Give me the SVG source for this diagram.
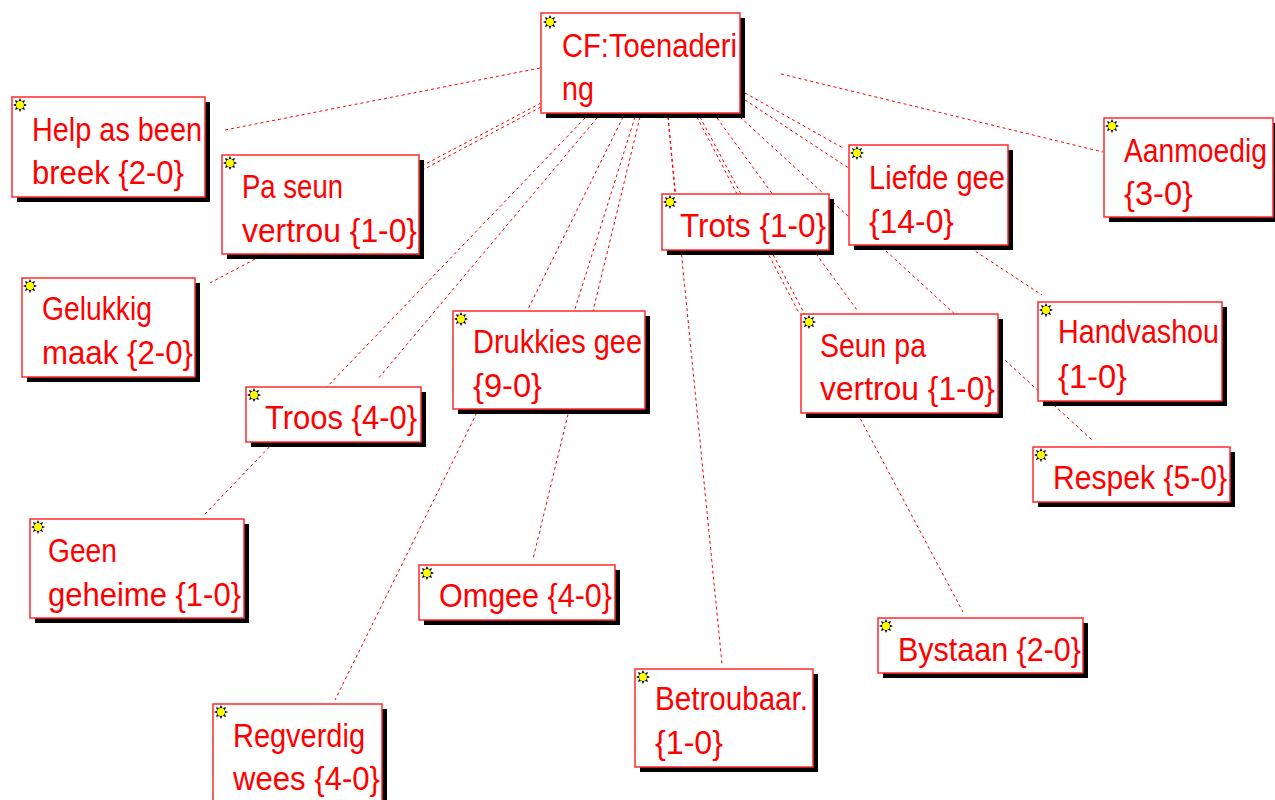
<svg xmlns="http://www.w3.org/2000/svg" width="1275" height="800" viewBox="0 0 1275 800">
<style>
.bg{fill:#ffffff}
.box{fill:#ffffff;stroke:#ff2a2a;stroke-width:1.5}
.sh{fill:#000000}
.t{font-family:"Liberation Sans",Arial,sans-serif;font-size:33px;fill:#ff0000}
.c{stroke:#ff0000;stroke-width:1;stroke-dasharray:3 3;fill:none}
</style>
<defs>
<symbol id="icon" viewBox="0 0 12 12" width="14" height="14" overflow="visible">
<polygon points="12,6 9.23,7.34 10.24,10.24 7.34,9.23 6,12 4.66,9.23 1.76,10.24 2.77,7.34 0,6 2.77,4.66 1.76,1.76 4.66,2.77 6,0 7.34,2.77 10.24,1.76 9.23,4.66" fill="#000000"/>
<circle cx="6" cy="6" r="3.4" fill="#ffff00"/>
</symbol>
</defs>
<rect class="bg" x="0" y="0" width="1275" height="800"/>
<g id="connectors">
<line class="c" x1="540" y1="68" x2="225" y2="130"/>
<line class="c" x1="541" y1="103" x2="420" y2="167"/>
<line class="c" x1="541" y1="107" x2="210" y2="283"/>
<line class="c" x1="597" y1="118" x2="377" y2="380"/>
<line class="c" x1="585" y1="118" x2="205" y2="514"/>
<line class="c" x1="635" y1="117" x2="575" y2="309"/>
<line class="c" x1="640" y1="117" x2="533" y2="559"/>
<line class="c" x1="623" y1="117" x2="335" y2="700"/>
<line class="c" x1="668" y1="117" x2="675" y2="194"/>
<line class="c" x1="668" y1="117" x2="722" y2="664"/>
<line class="c" x1="697" y1="117" x2="799" y2="313"/>
<line class="c" x1="700" y1="117" x2="963" y2="612"/>
<line class="c" x1="717" y1="118" x2="857" y2="310"/>
<line class="c" x1="745" y1="93" x2="843" y2="148"/>
<line class="c" x1="745" y1="100" x2="1042" y2="295"/>
<line class="c" x1="740" y1="117" x2="1092" y2="440"/>
<line class="c" x1="781" y1="74" x2="1103" y2="152"/>
</g>
<g id="n-cf">
<rect class="sh" x="546" y="18" width="199" height="100"/>
<rect class="box" x="541" y="13" width="199" height="100"/>
<use href="#icon" x="543" y="15"/>
<text class="t" x="562" y="57" textLength="175" lengthAdjust="spacingAndGlyphs">CF:Toenaderi</text>
<text class="t" x="562" y="100" textLength="32" lengthAdjust="spacingAndGlyphs">ng</text>
</g>
<g id="n-help">
<rect class="sh" x="17" y="102" width="193" height="100"/>
<rect class="box" x="12" y="97" width="193" height="100"/>
<use href="#icon" x="13" y="98"/>
<text class="t" x="32" y="141" textLength="170" lengthAdjust="spacingAndGlyphs">Help as been</text>
<text class="t" x="32" y="184" textLength="152" lengthAdjust="spacingAndGlyphs">breek {2-0}</text>
</g>
<g id="n-paseun">
<rect class="sh" x="227" y="160" width="197" height="99"/>
<rect class="box" x="222" y="155" width="197" height="99"/>
<use href="#icon" x="223" y="156"/>
<text class="t" x="242" y="198" textLength="101" lengthAdjust="spacingAndGlyphs">Pa seun</text>
<text class="t" x="242" y="242" textLength="175" lengthAdjust="spacingAndGlyphs">vertrou {1-0}</text>
</g>
<g id="n-gelukkig">
<rect class="sh" x="27" y="283" width="173" height="99"/>
<rect class="box" x="22" y="278" width="173" height="99"/>
<use href="#icon" x="23" y="279"/>
<text class="t" x="42" y="320" textLength="110" lengthAdjust="spacingAndGlyphs">Gelukkig</text>
<text class="t" x="42" y="364" textLength="151" lengthAdjust="spacingAndGlyphs">maak {2-0}</text>
</g>
<g id="n-troos">
<rect class="sh" x="251" y="392" width="175" height="55"/>
<rect class="box" x="246" y="387" width="175" height="55"/>
<use href="#icon" x="247" y="388"/>
<text class="t" x="265" y="429" textLength="152" lengthAdjust="spacingAndGlyphs">Troos {4-0}</text>
</g>
<g id="n-drukkies">
<rect class="sh" x="458" y="316" width="192" height="98"/>
<rect class="box" x="453" y="311" width="192" height="98"/>
<use href="#icon" x="454" y="312"/>
<text class="t" x="473" y="353" textLength="169" lengthAdjust="spacingAndGlyphs">Drukkies gee</text>
<text class="t" x="473" y="397" textLength="69" lengthAdjust="spacingAndGlyphs">{9-0}</text>
</g>
<g id="n-omgee">
<rect class="sh" x="424" y="570" width="196" height="55"/>
<rect class="box" x="419" y="565" width="196" height="55"/>
<use href="#icon" x="420" y="566"/>
<text class="t" x="439" y="607" textLength="173" lengthAdjust="spacingAndGlyphs">Omgee {4-0}</text>
</g>
<g id="n-geen">
<rect class="sh" x="35" y="524" width="214" height="99"/>
<rect class="box" x="30" y="519" width="214" height="99"/>
<use href="#icon" x="31" y="520"/>
<text class="t" x="48" y="562" textLength="69" lengthAdjust="spacingAndGlyphs">Geen</text>
<text class="t" x="48" y="606" textLength="193" lengthAdjust="spacingAndGlyphs">geheime {1-0}</text>
</g>
<g id="n-regverdig">
<rect class="sh" x="218" y="709" width="169" height="100"/>
<rect class="box" x="213" y="704" width="169" height="100"/>
<use href="#icon" x="214" y="705"/>
<text class="t" x="233" y="747" textLength="132" lengthAdjust="spacingAndGlyphs">Regverdig</text>
<text class="t" x="233" y="790" textLength="147" lengthAdjust="spacingAndGlyphs">wees {4-0}</text>
</g>
<g id="n-trots">
<rect class="sh" x="667" y="199" width="167" height="56"/>
<rect class="box" x="662" y="194" width="167" height="56"/>
<use href="#icon" x="663" y="195"/>
<text class="t" x="680" y="237" textLength="146" lengthAdjust="spacingAndGlyphs">Trots {1-0}</text>
</g>
<g id="n-betroubaar">
<rect class="sh" x="640" y="674" width="178" height="98"/>
<rect class="box" x="635" y="669" width="178" height="98"/>
<use href="#icon" x="636" y="670"/>
<text class="t" x="655" y="710" textLength="153" lengthAdjust="spacingAndGlyphs">Betroubaar.</text>
<text class="t" x="655" y="754" textLength="68" lengthAdjust="spacingAndGlyphs">{1-0}</text>
</g>
<g id="n-liefde">
<rect class="sh" x="854" y="150" width="159" height="100"/>
<rect class="box" x="849" y="145" width="159" height="100"/>
<use href="#icon" x="850" y="146"/>
<text class="t" x="869" y="189" textLength="136" lengthAdjust="spacingAndGlyphs">Liefde gee</text>
<text class="t" x="869" y="233" textLength="85" lengthAdjust="spacingAndGlyphs">{14-0}</text>
</g>
<g id="n-aanmoedig">
<rect class="sh" x="1109" y="123" width="166" height="99"/>
<rect class="box" x="1104" y="118" width="169" height="99"/>
<use href="#icon" x="1105" y="119"/>
<text class="t" x="1124" y="162" textLength="143" lengthAdjust="spacingAndGlyphs">Aanmoedig</text>
<text class="t" x="1124" y="205" textLength="69" lengthAdjust="spacingAndGlyphs">{3-0}</text>
</g>
<g id="n-seunpa">
<rect class="sh" x="806" y="319" width="197" height="99"/>
<rect class="box" x="801" y="314" width="197" height="99"/>
<use href="#icon" x="802" y="315"/>
<text class="t" x="820" y="357" textLength="106" lengthAdjust="spacingAndGlyphs">Seun pa</text>
<text class="t" x="820" y="400" textLength="175" lengthAdjust="spacingAndGlyphs">vertrou {1-0}</text>
</g>
<g id="n-handvashou">
<rect class="sh" x="1043" y="307" width="184" height="99"/>
<rect class="box" x="1038" y="302" width="184" height="99"/>
<use href="#icon" x="1039" y="303"/>
<text class="t" x="1058" y="343" textLength="161" lengthAdjust="spacingAndGlyphs">Handvashou</text>
<text class="t" x="1058" y="388" textLength="69" lengthAdjust="spacingAndGlyphs">{1-0}</text>
</g>
<g id="n-respek">
<rect class="sh" x="1038" y="452" width="197" height="55"/>
<rect class="box" x="1033" y="447" width="197" height="55"/>
<use href="#icon" x="1034" y="448"/>
<text class="t" x="1053" y="489" textLength="174" lengthAdjust="spacingAndGlyphs">Respek {5-0}</text>
</g>
<g id="n-bystaan">
<rect class="sh" x="883" y="623" width="205" height="55"/>
<rect class="box" x="878" y="618" width="205" height="55"/>
<use href="#icon" x="879" y="619"/>
<text class="t" x="898" y="661" textLength="183" lengthAdjust="spacingAndGlyphs">Bystaan {2-0}</text>
</g>
</svg>
